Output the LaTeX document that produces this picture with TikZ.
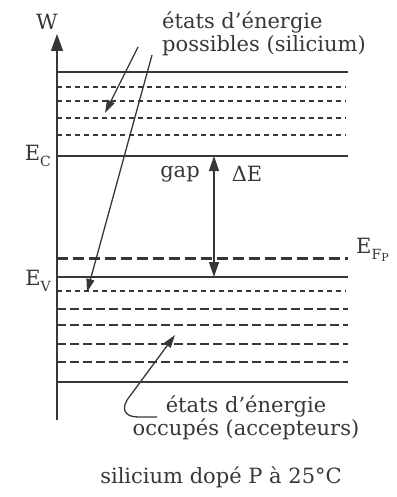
\documentclass[tikz,border=0pt]{standalone}
\usepackage{fontspec}
\setmainfont{DejaVu Serif}
\usepackage{graphicx}
\usetikzlibrary{arrows.meta}
\definecolor{ink}{HTML}{3A3636}
\newcommand{\lowsub}[1]{\raisebox{-0.28em}{\fontsize{14}{14}\selectfont #1}}
\newcommand{\lowsubb}[1]{\raisebox{-0.2em}{\fontsize{11}{11}\selectfont #1}}
\tikzset{
  lvl/.style={draw=ink, line width=1.3pt},
  shortdash/.style={draw=ink, line width=1.2pt, dash pattern=on 5pt off 4pt},
  longdash/.style={draw=ink, line width=1.4pt, dash pattern=on 8.5pt off 4.5pt},
  fermi/.style={draw=ink, line width=3pt, dash pattern=on 11pt off 5pt},
  pointer/.style={draw=ink, line width=1.3pt, -{Triangle[length=13pt,width=8pt]}},
  lbl/.style={text=ink, inner sep=0pt, font=\fontsize{21}{23}\selectfont},
}
\begin{document}
\begin{tikzpicture}[x=1pt,y=-1pt]
\useasboundingbox (0,0) rectangle (396,497);
% axis
\coordinate (axb) at (57,420);
\coordinate (axt) at (57,34);
\draw[draw=ink, line width=1.4pt, -{Triangle[length=17pt,width=12pt]}] (axb) -- (axt);
\node[lbl] (W) at (47,22) {W};
% solid levels
\foreach \y/\n in {72/l1,156/lc,277/lv,382/l4}{
  \coordinate (\n a) at (57,\y); \coordinate (\n b) at (348,\y);
  \draw[lvl] (\n a) -- (\n b);
}
% short dashed levels
\foreach \y/\n in {87/s1,101/s2,118/s3,135/s4,291/s5}{
  \coordinate (\n a) at (57,\y); \coordinate (\n b) at (346,\y);
  \draw[shortdash] (\n a) -- (\n b);
}
% long dashed levels
\foreach \y/\n in {309/d1,325/d2,344/d3,362/d4}{
  \coordinate (\n a) at (57,\y); \coordinate (\n b) at (348,\y);
  \draw[longdash] (\n a) -- (\n b);
}
% fermi level
\coordinate (efa) at (57,258); \coordinate (efb) at (348,258);
\draw[fermi] (efa) -- (efb);
% labels
\node[lbl, anchor=east] (Ec) at (51,156) {E\lowsub{C}};
\node[lbl, anchor=east] (Ev) at (51,281) {E\lowsub{V}};
\node[lbl, anchor=west] (Ef) at (356,250) {E\lowsub{F\lowsubb{P}}};
\node[lbl] (gap) at (180,174) {gap};
\node[lbl] (dE) at (247,174) {ΔE};
% gap arrow
\coordinate (gt) at (214,156); \coordinate (gb) at (214,277);
\draw[draw=ink, line width=1.3pt, {Triangle[length=15pt,width=10pt]}-{Triangle[length=15pt,width=10pt]}] (gt) -- (gb);
% top text
\node[lbl, align=left, anchor=north west] (poss) at (162,12) {états d'énergie\\possibles (silicium)};
\coordinate (p1s) at (138,47); \coordinate (p1e) at (105,113);
\coordinate (p2s) at (152,55); \coordinate (p2e) at (87,292);
\draw[pointer] (p1s) -- (p1e);
\draw[pointer] (p2s) -- (p2e);
% bottom text
\node[lbl, align=center] (occ) at (246,418) {états d'énergie\\occupés (accepteurs)};
\coordinate (q1s) at (157,417); \coordinate (q1e) at (175,335);
\draw[pointer] (q1s) -- (138,417) .. controls (124,417) and (120,408) .. (130,396) -- (q1e);
% caption
\node[lbl] (cap) at (221,477) {silicium dopé P à 25°C};
\end{tikzpicture}
\end{document}
